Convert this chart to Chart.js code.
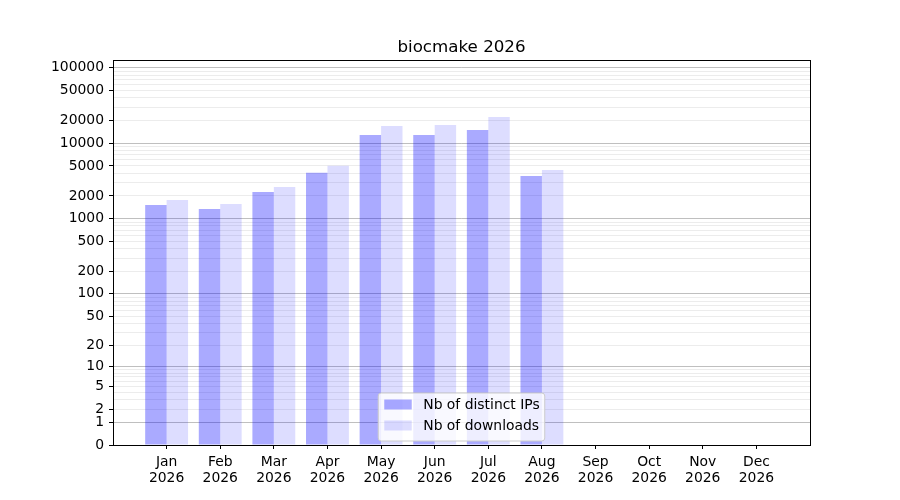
<!DOCTYPE html>
<html>
<head>
<meta charset="utf-8">
<script src="https://cdn.jsdelivr.net/npm/chart.js@4/dist/chart.umd.min.js"></script>
<style>
  html, body { margin: 0; padding: 0; background: #ffffff; }
  #wrap { width: 900px; height: 500px; }
</style>
</head>
<body>
<div id="wrap"><canvas id="c" width="900" height="500"></canvas></div>
<script>
// ---- data ----
const months = ['Jan', 'Feb', 'Mar', 'Apr', 'May', 'Jun', 'Jul', 'Aug', 'Sep', 'Oct', 'Nov', 'Dec'];
const year = '2026';
const distinctIPs = [1517, 1342, 2255, 4064, 12850, 12850, 14950, 3675];
const downloads = [1766, 1563, 2625, 5030, 16900, 17400, 22250, 4415];
const yTickLabels = [0, 1, 2, 5, 10, 20, 50, 100, 200, 500, 1000, 2000, 5000, 10000, 20000, 50000, 100000];
const yMinorTicks = [3, 4, 6, 7, 8, 9, 30, 40, 60, 70, 80, 90, 300, 400, 600, 700, 800, 900,
  3000, 4000, 6000, 7000, 8000, 9000, 30000, 40000, 60000, 70000, 80000, 90000];
const yTop = 126800;

// log10(1 + v) scale transform
const f = v => Math.log10(1 + v);

const FONT = 'DejaVu Sans';

const frameAndLegend = {
  id: 'frameAndLegend',
  afterDatasetsDraw(chart) {
    const ctx = chart.ctx;
    const a = chart.chartArea;
    ctx.save();
    // spines
    ctx.strokeStyle = '#000000';
    ctx.lineWidth = 1;
    ctx.strokeRect(Math.round(a.left) + 0.5, Math.round(a.top) + 0.5,
      Math.round(a.right) - Math.round(a.left), Math.round(a.bottom) - Math.round(a.top));

    // legend (lower center)
    ctx.font = '13.9px "' + FONT + '"';
    const ds = chart.data.datasets;
    let tw = 0;
    ds.forEach(d => { tw = Math.max(tw, ctx.measureText(d.label).width); });
    const w = 5.6 + 27.8 + 11.1 + tw + 5.6;
    const h = 48;
    const cx = (a.left + a.right) / 2;
    const x0 = cx - w / 2;
    const y0 = a.bottom - 4 - h;
    const r = 3;
    ctx.beginPath();
    ctx.moveTo(x0 + r, y0);
    ctx.lineTo(x0 + w - r, y0);
    ctx.quadraticCurveTo(x0 + w, y0, x0 + w, y0 + r);
    ctx.lineTo(x0 + w, y0 + h - r);
    ctx.quadraticCurveTo(x0 + w, y0 + h, x0 + w - r, y0 + h);
    ctx.lineTo(x0 + r, y0 + h);
    ctx.quadraticCurveTo(x0, y0 + h, x0, y0 + h - r);
    ctx.lineTo(x0, y0 + r);
    ctx.quadraticCurveTo(x0, y0, x0 + r, y0);
    ctx.closePath();
    ctx.fillStyle = 'rgba(255,255,255,0.8)';
    ctx.fill();
    ctx.strokeStyle = '#cccccc';
    ctx.lineWidth = 1;
    ctx.stroke();
    ds.forEach((d, i) => {
      const yc = y0 + 11.5 + i * 21;
      ctx.fillStyle = d.legendColor;
      ctx.fillRect(x0 + 6, yc - 5, 27.5, 10);
      ctx.fillStyle = '#000000';
      ctx.textBaseline = 'middle';
      ctx.textAlign = 'left';
      ctx.fillText(d.label, x0 + 45, yc + 0.5);
    });
    ctx.restore();
  }
};

const yTicksAll = yTickLabels.map(v => ({ raw: v, labeled: true }))
  .concat(yMinorTicks.map(v => ({ raw: v, labeled: false })))
  .sort((p, q) => p.raw - q.raw);

function isPow10(v) {
  if (v < 1) return false;
  const l = Math.log10(v);
  return Math.abs(l - Math.round(l)) < 1e-9;
}

new Chart(document.getElementById('c'), {
  type: 'bar',
  data: {
    datasets: [
      {
        label: 'Nb of distinct IPs',
        data: distinctIPs.map((v, i) => ({ x: i, y: f(v) })),
        backgroundColor: 'rgba(0,0,255,0.333)',
        legendColor: 'rgba(0,0,255,0.333)',
        borderWidth: 0,
        barPercentage: 1.0,
        categoryPercentage: 0.8
      },
      {
        label: 'Nb of downloads',
        data: downloads.map((v, i) => ({ x: i, y: f(v) })),
        backgroundColor: 'rgba(0,0,255,0.133)',
        legendColor: 'rgba(0,0,255,0.133)',
        borderWidth: 0,
        barPercentage: 1.0,
        categoryPercentage: 0.8
      }
    ]
  },
  options: {
    responsive: false,
    animation: false,
    devicePixelRatio: 1,
    layout: { padding: { left: 0, right: 90, top: 0, bottom: 0 } },
    plugins: {
      legend: { display: false },
      tooltip: { enabled: false },
      title: {
        display: true,
        fullSize: false,
        text: 'biocmake 2026',
        color: '#000000',
        font: { family: FONT, size: 16.7, weight: 'normal', lineHeight: 1.2 },
        padding: { top: 38, bottom: 2 }
      }
    },
    scales: {
      x: {
        type: 'linear',
        min: -1,
        max: 12,
        offset: false,
        afterBuildTicks: s => { s.ticks = months.map((m, i) => ({ value: i })); },
        afterFit: s => { s.height = 55; },
        border: { display: false },
        grid: {
          display: true,
          offset: false,
          drawOnChartArea: false,
          drawTicks: true,
          tickLength: 4,
          tickColor: '#000000',
          tickWidth: 1
        },
        ticks: {
          autoSkip: false,
          maxRotation: 0,
          padding: 5,
          color: '#000000',
          font: { family: FONT, size: 13.9, lineHeight: 1.15 },
          callback: v => [months[v], year]
        }
      },
      y: {
        type: 'linear',
        min: 0,
        max: f(yTop),
        afterBuildTicks: s => {
          s.ticks = yTicksAll.map(t => ({ value: f(t.raw), raw: t.raw, labeled: t.labeled }));
        },
        afterFit: s => { s.width = 113; },
        border: { display: false },
        grid: {
          display: true,
          drawOnChartArea: true,
          drawTicks: true,
          tickLength: 4,
          color: c => {
            const t = c.tick;
            if (!t) return 'rgba(0,0,0,0)';
            if (t.raw === 0) return 'rgba(0,0,0,0)';
            return isPow10(t.raw) ? 'rgba(128,128,128,0.5)' : 'rgba(128,128,128,0.15)';
          },
          lineWidth: 1,
          tickColor: c => (c.tick && c.tick.labeled) ? '#000000' : 'rgba(0,0,0,0)',
          tickWidth: 1
        },
        ticks: {
          autoSkip: false,
          padding: 5,
          color: '#000000',
          font: { family: FONT, size: 13.9 },
          callback: (v, i, ticks) => ticks[i].labeled ? String(ticks[i].raw) : ''
        }
      }
    }
  },
  plugins: [frameAndLegend]
});
</script>
</body>
</html>
